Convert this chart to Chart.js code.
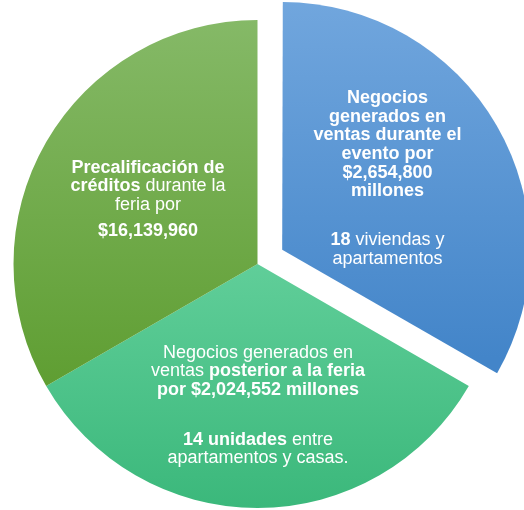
<!DOCTYPE html>
<html>
<head>
<meta charset="utf-8">
<script src="https://cdn.jsdelivr.net/npm/chart.js@4.4.1/dist/chart.umd.min.js"></script>
<style>
  html, body { margin: 0; padding: 0; background: #fff; }
  #wrap { width: 524px; height: 510px; }
</style>
</head>
<body>
<div id="wrap"><canvas id="pie" width="524" height="510"></canvas></div>
<script>
// Datos del gráfico (tres partes iguales)
const categorias = ['Ventas durante el evento', 'Ventas posteriores a la feria', 'Precalificación de créditos'];
const valores = [1, 1, 1];

// Texto de cada porción: párrafos -> líneas -> segmentos [texto, negrita]
const textoVentasEvento = [
    [
        [['Negocios', true]],
        [['generados en', true]],
        [['ventas durante el', true]],
        [['evento por', true]],
        [['$2,654,800', true]],
        [['millones', true]]
    ],
    [
        [['18', true], [' viviendas y', false]],
        [['apartamentos', false]]
    ]
];
const textoVentasPosterior = [
    [
        [['Negocios generados en', false]],
        [['ventas ', false], ['posterior a la feria', true]],
        [['por $2,024,552 millones', true]]
    ],
    [
        [['14 unidades', true], [' entre', false]],
        [['apartamentos y casas.', false]]
    ]
];
const textoCreditos = [
    [
        [['Precalificación de', true]],
        [['créditos', true], [' durante la', false]],
        [['feria por', false]]
    ],
    [
        [['$16,139,960', true]]
    ]
];
const textos = [textoVentasEvento, textoVentasPosterior, textoCreditos];

// Colores (degradado vertical, arriba -> abajo)
const coloresArriba = ['#72a7de', '#60ce99', '#85b967'];
const coloresAbajo = ['#4385c9', '#3bb87b', '#5f9e32'];

const RADIO = 244;
const DESPLAZAMIENTO = 114; // chart.js dibuja offset / 4

// Degradado por porción según su caja
function colorPorcion(context) {
    const chart = context.chart;
    const i = context.dataIndex;
    const area = chart.chartArea;
    if (!area) {
        return coloresArriba[i];
    }
    const cy = (area.top + area.bottom) / 2;
    let y0, y1;
    if (i === 0) { y0 = cy - RADIO - 14; y1 = cy + RADIO * 0.5 - 14; }
    else if (i === 1) { y0 = cy; y1 = cy + RADIO; }
    else { y0 = cy - RADIO; y1 = cy + RADIO * 0.5; }
    const g = chart.ctx.createLinearGradient(0, y0, 0, y1);
    g.addColorStop(0, coloresArriba[i]);
    g.addColorStop(1, coloresAbajo[i]);
    return g;
}

// Plugin para escribir los textos dentro de las porciones
const textoPorciones = {
    id: 'textoPorciones',
    afterDatasetsDraw(chart, args, opts) {
        const ctx = chart.ctx;
        const meta = chart.getDatasetMeta(0);
        meta.data.forEach((arc, i) => {
            const mid = (arc.startAngle + arc.endAngle) / 2;
            const off = (arc.options.offset || 0) / 4;
            const dist = arc.outerRadius * opts.distancia[i] + off;
            const cx = arc.x + Math.cos(mid) * dist + opts.ajusteX[i];
            const cy = arc.y + Math.sin(mid) * dist + opts.ajusteY[i];
            const parrafos = textos[i];

            // altura total del bloque (de primera a última línea base)
            let nLineas = 0;
            parrafos.forEach(p => nLineas += p.length);
            const alto = (nLineas - parrafos.length) * opts.interlineado + (parrafos.length - 1) * opts.separacion[i];
            let y = cy - alto / 2;

            ctx.save();
            ctx.fillStyle = '#ffffff';
            ctx.textAlign = 'left';
            ctx.textBaseline = 'alphabetic';
            parrafos.forEach((p, pi) => {
                p.forEach((linea, li) => {
                    let ancho = 0;
                    linea.forEach(seg => {
                        ctx.font = (seg[1] ? 'bold ' : '') + opts.fuente;
                        ancho += ctx.measureText(seg[0]).width;
                    });
                    let x = cx - ancho / 2;
                    linea.forEach(seg => {
                        ctx.font = (seg[1] ? 'bold ' : '') + opts.fuente;
                        ctx.fillText(seg[0], x, y);
                        x += ctx.measureText(seg[0]).width;
                    });
                    if (li < p.length - 1) y += opts.interlineado;
                });
                if (pi < parrafos.length - 1) y += opts.separacion[i];
            });
            ctx.restore();
        });
    }
};

const chart = new Chart(document.getElementById('pie'), {
    type: 'pie',
    data: {
        labels: categorias,
        datasets: [{
            data: valores,
            backgroundColor: colorPorcion,
            borderWidth: 0,
            offset: [DESPLAZAMIENTO, 0, 0],
            clip: false
        }]
    },
    options: {
        responsive: false,
        animation: false,
        devicePixelRatio: 1,
        radius: RADIO,
        layout: {
            padding: { left: 0, right: 9, top: 18, bottom: 0 }
        },
        plugins: {
            legend: { display: false },
            tooltip: { enabled: false },
            textoPorciones: {
                fuente: "18px 'Liberation Sans', Arial, sans-serif",
                interlineado: 18.6,
                separacion: [49, 50, 26.4],
                distancia: [0.51, 0.6, 0.51],
                ajusteX: [-2.5, 0.5, -1.7],
                ajusteY: [-4, 0, 2.6]
            }
        }
    },
    plugins: [textoPorciones]
});
</script>
</body>
</html>
